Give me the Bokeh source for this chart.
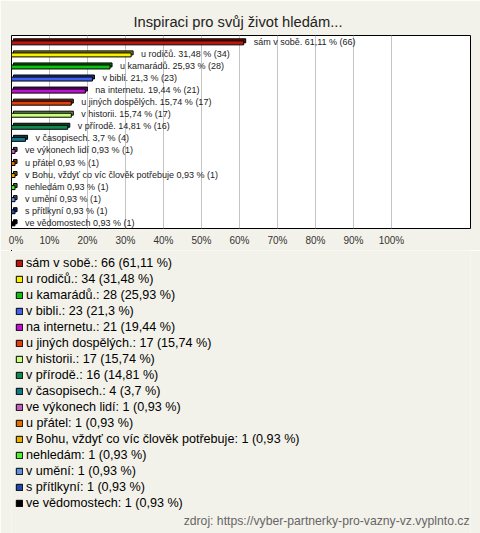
from bokeh.plotting import figure
from bokeh.layouts import column
from bokeh.models import (ColumnDataSource, FactorRange, Range1d, FixedTicker,
                          PrintfTickFormatter, Legend, LegendItem, Label)
from bokeh.transform import dodge
from bokeh.core.properties import value
from bokeh.embed import file_html
from bokeh.resources import INLINE

# ---- data ----
names = ["sám v sobě.", "u rodičů.", "u kamarádů.", "v bibli.", "na internetu.",
         "u jiných dospělých.", "v historii.", "v přírodě.", "v časopisech.",
         "ve výkonech lidí", "u přátel", "v Bohu, vždyť co víc člověk potřebuje",
         "nehledám", "v umění", "s přítlkyní", "ve vědomostech"]
counts = [66, 34, 28, 23, 21, 17, 17, 16, 4, 1, 1, 1, 1, 1, 1, 1]
percents = [61.11, 31.48, 25.93, 21.3, 19.44, 15.74, 15.74, 14.81, 3.7,
            0.93, 0.93, 0.93, 0.93, 0.93, 0.93, 0.93]
colors = ["#c0150c", "#f8f000", "#10c010", "#4060f0", "#c010d8", "#e04010",
          "#c8ff80", "#108850", "#107888", "#c060c0", "#e07000", "#e8b000",
          "#50f030", "#6090e0", "#2048b0", "#000000"]
tick_values = [0, 10, 20, 30, 40, 50, 60, 70, 80, 90, 100]
title_text = "Inspiraci pro svůj život hledám..."
footer_text = "zdroj: https://vyber-partnerky-pro-vazny-vz.vyplnto.cz"

FONT = "Liberation Sans"
BG = "#f3f2ea"


def darker(c, f=0.55):
    c = c.lstrip("#")
    r, g, b = (int(c[i:i + 2], 16) for i in (0, 2, 4))
    return "#%02x%02x%02x" % (int(r * f), int(g * f), int(b * f))


pct_txt = [f"{v:g}".replace(".", ",") for v in percents]
bar_labels = [f"{n} {p} % ({c})" for n, p, c in zip(names, pct_txt, counts)]
leg_labels = [f"{n}: {c} ({p} %)" for n, p, c in zip(names, pct_txt, counts)]

src = ColumnDataSource(dict(name=names, value=percents, color=colors,
                            dark=[darker(c) for c in colors], label=bar_labels))

# ---------------- top figure: bar chart ----------------
W, H1, H2 = 480, 250, 283
FL, FR, FT, FB = 11, 470, 35, 228

p = figure(width=W, height=H1, output_backend="svg", toolbar_location=None,
           x_range=Range1d(0, 120.8),
           y_range=FactorRange(factors=list(reversed(names))),
           y_axis_location=None,
           min_border_left=FL, min_border_right=W - FR,
           min_border_top=FT, min_border_bottom=H1 - FB)

p.background_fill_color = "#ffffff"
p.border_fill_color = BG
p.outline_line_color = "#000000"
p.outline_line_width = 1

p.title.text = title_text
p.title.align = "left"
p.title.offset = 122
p.title.text_font = FONT
p.title.text_font_size = "14.7px"
p.title.text_font_style = "normal"
p.title.text_color = "#222222"
p.title.standoff = 11

p.ygrid.visible = False
p.xgrid.ticker = FixedTicker(ticks=tick_values[1:])
p.xgrid.grid_line_color = "#c4c4c4"

ax = p.xaxis[0]
ax.ticker = FixedTicker(ticks=tick_values)
ax.formatter = PrintfTickFormatter(format="%d%%")
ax.major_label_overrides = {0: "\u2007\u00a00%"}
ax.axis_line_color = None
ax.major_tick_line_color = None
ax.minor_tick_line_color = None
ax.major_tick_out = 0
ax.major_tick_in = 0
ax.major_label_text_font = FONT
ax.major_label_text_font_size = "10px"
ax.major_label_text_color = "#333333"
ax.major_label_standoff = 6

# 3D-ish bars: back face (darker, shifted up-right) then front face
p.hbar(y=dodge("name", 0.06, range=p.y_range), left=0.53,
       right=dodge("value", 0.53), height=0.33, fill_color="dark",
       line_color="#000000", line_width=1, source=src)
p.hbar(y=dodge("name", -0.11, range=p.y_range), left=0, right="value",
       height=0.33, fill_color="color", line_color="#000000",
       line_width=1, source=src)

p.text(x="value", y=dodge("name", -0.03, range=p.y_range), text="label",
       x_offset=10, text_baseline="middle", text_align="left",
       text_font=value(FONT), text_font_size="9px", text_color="#222222",
       source=src)

# ---------------- bottom figure: legend + source ----------------
p2 = figure(width=W, height=H2, output_backend="svg", toolbar_location=None,
            x_range=Range1d(0, 1), y_range=Range1d(-1, 0),
            x_axis_location=None, y_axis_location=None,
            min_border_left=0, min_border_right=0,
            min_border_top=0, min_border_bottom=0)
p2.background_fill_color = BG
p2.border_fill_color = BG
p2.outline_line_color = None
p2.xgrid.visible = False
p2.ygrid.visible = False

# legend swatch renderer (its data lie outside this panel's ranges)
swatch = p2.hbar(y="value", left=0, right=0, height=0, fill_color="color",
                 line_color="#000000", line_width=1, source=src)

items = [LegendItem(label=leg_labels[i], renderers=[swatch], index=i)
         for i in range(len(names))]
legend = Legend(items=items, location=(4, 22), orientation="vertical",
                glyph_width=8, glyph_height=8, label_height=16, spacing=0,
                padding=0, margin=0, label_standoff=3,
                label_text_font=FONT, label_text_font_size="12.6px",
                label_text_color="#000000",
                border_line_alpha=0, background_fill_alpha=0)
p2.add_layout(legend, "center")

footer = Label(x=458, y=12.3, x_units="screen", y_units="screen",
               text=footer_text, text_align="right", text_baseline="middle",
               text_font=FONT, text_font_size="12.2px", text_color="#666666")
p2.add_layout(footer)

layout = column(p, p2, spacing=0)
open("out.html", "w").write(file_html(layout, INLINE))
